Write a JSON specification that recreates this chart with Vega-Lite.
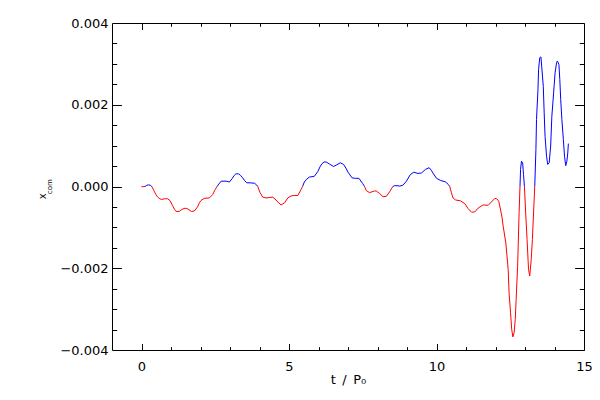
{
  "$schema": "https://vega.github.io/schema/vega-lite/v6.json",
  "width": 472,
  "height": 327,
  "autosize": "none",
  "padding": {"left": 112, "top": 23, "right": 16, "bottom": 50},
  "background": "white",
  "config": {
    "view": {"stroke": "black", "strokeWidth": 1},
    "axis": {"grid": false, "domain": false, "labelColor": "black", "tickColor": "black", "tickWidth": 1, "titleColor": "black", "labelFont": "DejaVu Sans", "titleFont": "DejaVu Sans", "titleFontWeight": "normal", "labelFlush": false, "labelOverlap": false}
  },
  "data": {"values": [
    {"t": 0.00, "v": -0.000003}, {"t": 0.08, "v": -0.000003}, {"t": 0.12, "v": 0}, {"t": 0.18, "v": 0.00003}, {"t": 0.24, "v": 0.00004}, {"t": 0.30, "v": 0.00003}, {"t": 0.35, "v": 0},
    {"t": 0.42, "v": -0.0001}, {"t": 0.49, "v": -0.0002}, {"t": 0.55, "v": -0.00026}, {"t": 0.60, "v": -0.00029}, {"t": 0.68, "v": -0.00032}, {"t": 0.77, "v": -0.0003}, {"t": 0.88, "v": -0.0003}, {"t": 0.96, "v": -0.00034},
    {"t": 1.05, "v": -0.00046}, {"t": 1.12, "v": -0.00056}, {"t": 1.17, "v": -0.00061}, {"t": 1.28, "v": -0.00061}, {"t": 1.37, "v": -0.00056}, {"t": 1.48, "v": -0.00053}, {"t": 1.57, "v": -0.00055}, {"t": 1.69, "v": -0.00061}, {"t": 1.79, "v": -0.0006}, {"t": 1.90, "v": -0.0005}, {"t": 1.96, "v": -0.0004},
    {"t": 2.02, "v": -0.00034}, {"t": 2.13, "v": -0.00029}, {"t": 2.30, "v": -0.00028}, {"t": 2.41, "v": -0.0002}, {"t": 2.50, "v": -0.00007}, {"t": 2.56, "v": 0}, {"t": 2.62, "v": 0.00006}, {"t": 2.70, "v": 0.00013}, {"t": 2.87, "v": 0.00013}, {"t": 2.98, "v": 0.00011},
    {"t": 3.07, "v": 0.00019}, {"t": 3.14, "v": 0.00027}, {"t": 3.20, "v": 0.00031}, {"t": 3.29, "v": 0.00031}, {"t": 3.36, "v": 0.00027}, {"t": 3.43, "v": 0.00021}, {"t": 3.50, "v": 0.00014}, {"t": 3.57, "v": 0.00009}, {"t": 3.68, "v": 0.00009}, {"t": 3.83, "v": 0.00008}, {"t": 3.90, "v": 0.00004}, {"t": 3.94, "v": 0},
    {"t": 4.02, "v": -0.00015}, {"t": 4.11, "v": -0.00026}, {"t": 4.22, "v": -0.00028}, {"t": 4.33, "v": -0.00027}, {"t": 4.45, "v": -0.00026}, {"t": 4.56, "v": -0.00033}, {"t": 4.65, "v": -0.0004}, {"t": 4.73, "v": -0.00045}, {"t": 4.85, "v": -0.0004}, {"t": 4.96, "v": -0.00028},
    {"t": 5.07, "v": -0.00023}, {"t": 5.18, "v": -0.00022}, {"t": 5.30, "v": -0.00022}, {"t": 5.41, "v": -0.00007}, {"t": 5.46, "v": 0}, {"t": 5.52, "v": 0.00011}, {"t": 5.60, "v": 0.00018}, {"t": 5.69, "v": 0.00023}, {"t": 5.86, "v": 0.00025}, {"t": 5.98, "v": 0.00037},
    {"t": 6.05, "v": 0.00048}, {"t": 6.12, "v": 0.00056}, {"t": 6.19, "v": 0.0006}, {"t": 6.26, "v": 0.0006}, {"t": 6.37, "v": 0.00055}, {"t": 6.51, "v": 0.00049}, {"t": 6.62, "v": 0.00053}, {"t": 6.74, "v": 0.00058}, {"t": 6.85, "v": 0.00054}, {"t": 6.93, "v": 0.00045},
    {"t": 7.00, "v": 0.00035}, {"t": 7.14, "v": 0.00021}, {"t": 7.25, "v": 0.0002}, {"t": 7.37, "v": 0.0002}, {"t": 7.50, "v": 0.00007}, {"t": 7.56, "v": 0}, {"t": 7.62, "v": -0.0001}, {"t": 7.73, "v": -0.00015}, {"t": 7.90, "v": -0.00011}, {"t": 7.96, "v": -0.00011},
    {"t": 8.07, "v": -0.00017}, {"t": 8.19, "v": -0.00025}, {"t": 8.30, "v": -0.00024}, {"t": 8.43, "v": -0.00011}, {"t": 8.52, "v": 0}, {"t": 8.58, "v": 0.00002}, {"t": 8.66, "v": 0.00002}, {"t": 8.75, "v": 0.00001}, {"t": 8.86, "v": 0.00003}, {"t": 8.98, "v": 0.00013},
    {"t": 9.11, "v": 0.00029}, {"t": 9.23, "v": 0.00035}, {"t": 9.37, "v": 0.00032}, {"t": 9.49, "v": 0.00033}, {"t": 9.63, "v": 0.00042}, {"t": 9.75, "v": 0.00046}, {"t": 9.82, "v": 0.0004}, {"t": 9.88, "v": 0.00033},
    {"t": 10.00, "v": 0.0002}, {"t": 10.13, "v": 0.00015}, {"t": 10.31, "v": 0.00011}, {"t": 10.40, "v": 0.00005}, {"t": 10.45, "v": 0}, {"t": 10.50, "v": -0.00014}, {"t": 10.56, "v": -0.00028}, {"t": 10.65, "v": -0.00033}, {"t": 10.81, "v": -0.00035}, {"t": 10.96, "v": -0.00042},
    {"t": 11.07, "v": -0.00054}, {"t": 11.19, "v": -0.00063}, {"t": 11.30, "v": -0.00062}, {"t": 11.41, "v": -0.00053}, {"t": 11.58, "v": -0.00045}, {"t": 11.75, "v": -0.00046}, {"t": 11.86, "v": -0.00038}, {"t": 11.98, "v": -0.00029},
    {"t": 12.04, "v": -0.0003}, {"t": 12.11, "v": -0.00036}, {"t": 12.18, "v": -0.0006}, {"t": 12.22, "v": -0.00075}, {"t": 12.26, "v": -0.00097}, {"t": 12.35, "v": -0.00138}, {"t": 12.43, "v": -0.00203}, {"t": 12.46, "v": -0.0026}, {"t": 12.51, "v": -0.00309}, {"t": 12.55, "v": -0.0035}, {"t": 12.59, "v": -0.00368}, {"t": 12.63, "v": -0.00358}, {"t": 12.67, "v": -0.00325}, {"t": 12.70, "v": -0.00276}, {"t": 12.75, "v": -0.00195}, {"t": 12.80, "v": -0.00064}, {"t": 12.83, "v": 0}, {"t": 12.85, "v": 0.00042}, {"t": 12.88, "v": 0.00062}, {"t": 12.92, "v": 0.00058}, {"t": 12.95, "v": 0.00029}, {"t": 12.98, "v": 0},
    {"t": 13.02, "v": -0.0006}, {"t": 13.07, "v": -0.0013}, {"t": 13.12, "v": -0.00203}, {"t": 13.16, "v": -0.00219}, {"t": 13.21, "v": -0.00179}, {"t": 13.25, "v": -0.0013}, {"t": 13.30, "v": -0.00048}, {"t": 13.33, "v": 0}, {"t": 13.37, "v": 0.0009}, {"t": 13.39, "v": 0.00164}, {"t": 13.44, "v": 0.00237}, {"t": 13.46, "v": 0.00286}, {"t": 13.50, "v": 0.00315}, {"t": 13.54, "v": 0.00317}, {"t": 13.57, "v": 0.0029}, {"t": 13.62, "v": 0.00245}, {"t": 13.65, "v": 0.0018}, {"t": 13.68, "v": 0.00123}, {"t": 13.73, "v": 0.00074}, {"t": 13.77, "v": 0.00054}, {"t": 13.82, "v": 0.00058}, {"t": 13.87, "v": 0.00099}, {"t": 13.91, "v": 0.00172}, {"t": 13.97, "v": 0.00229},
    {"t": 14.02, "v": 0.00278}, {"t": 14.07, "v": 0.00303}, {"t": 14.10, "v": 0.00307}, {"t": 14.15, "v": 0.00298}, {"t": 14.18, "v": 0.00262}, {"t": 14.21, "v": 0.00213}, {"t": 14.25, "v": 0.00164}, {"t": 14.30, "v": 0.00115}, {"t": 14.34, "v": 0.00074}, {"t": 14.38, "v": 0.00051}, {"t": 14.42, "v": 0.00062}, {"t": 14.45, "v": 0.00082}, {"t": 14.47, "v": 0.00105}
  ]},
  "layer": [
    {
      "transform": [{"calculate": "datum.v <= 0 ? datum.v : null", "as": "vr"}],
      "mark": {"type": "line", "color": "#ff0000", "strokeWidth": 1, "clip": true},
      "encoding": {
        "x": {"field": "t", "type": "quantitative", "scale": {"domain": [-1, 15], "nice": false, "zero": false},
              "axis": {"orient": "bottom", "values": [0, 5, 10, 15], "ticks": false, "labelPadding": 10, "labelFontSize": 13, "title": "t\u2002/\u2002P₀", "titleFontSize": 13, "titleX": 236, "titleY": 33, "titleAlign": "center", "titleBaseline": "alphabetic"}},
        "y": {"field": "vr", "type": "quantitative", "scale": {"domain": [-0.004, 0.004], "nice": false, "zero": false},
              "axis": {"orient": "left", "values": [-0.004, -0.002, 0, 0.002, 0.004], "format": ".3f", "ticks": false, "labelPadding": 4, "labelFontSize": 13, "title": "x", "titleFontSize": 10, "titleX": -66.5, "titleY": 172.8, "titleAngle": 270, "titleAlign": "center", "titleBaseline": "alphabetic"}}
      }
    },
    {
      "transform": [{"calculate": "datum.v >= 0 ? datum.v : null", "as": "vb"}],
      "mark": {"type": "line", "color": "#0000ff", "strokeWidth": 1, "clip": true},
      "encoding": {
        "x": {"field": "t", "type": "quantitative", "axis": {"orient": "bottom", "values": [0, 5, 10, 15], "labels": false, "tickSize": -6.5, "title": null}},
        "y": {"field": "vb", "type": "quantitative", "axis": {"orient": "left", "values": [-0.002, 0, 0.002], "labels": false, "tickSize": -9.4, "title": null}}
      }
    },
    {
      "mark": {"type": "point", "opacity": 0},
      "encoding": {
        "x": {"field": "t", "type": "quantitative", "axis": {"orient": "bottom", "values": [1, 2, 3, 4, 6, 7, 8, 9, 11, 12, 13, 14], "labels": false, "tickSize": -3.3, "title": null}},
        "y": {"field": "v", "type": "quantitative", "axis": {"orient": "left", "values": [-0.0035, -0.003, -0.0025, -0.0015, -0.001, -0.0005, 0.0005, 0.001, 0.0015, 0.0025, 0.003, 0.0035], "labels": false, "tickSize": -4.7, "title": null}}
      }
    },
    {
      "mark": {"type": "point", "opacity": 0},
      "encoding": {
        "x": {"field": "t", "type": "quantitative", "axis": {"orient": "top", "values": [0, 5, 10, 15], "labels": false, "tickSize": -6.5, "title": null}},
        "y": {"field": "v", "type": "quantitative", "axis": {"orient": "right", "values": [-0.002, 0, 0.002], "labels": false, "tickSize": -9.4, "title": null}}
      }
    },
    {
      "mark": {"type": "point", "opacity": 0},
      "encoding": {
        "x": {"field": "t", "type": "quantitative", "axis": {"orient": "top", "values": [1, 2, 3, 4, 6, 7, 8, 9, 11, 12, 13, 14], "labels": false, "tickSize": -3.3, "title": null}},
        "y": {"field": "v", "type": "quantitative", "axis": {"orient": "right", "values": [-0.0035, -0.003, -0.0025, -0.0015, -0.001, -0.0005, 0.0005, 0.001, 0.0015, 0.0025, 0.003, 0.0035], "labels": false, "tickSize": -4.7, "title": null}}
      }
    },
    {
      "mark": {"type": "point", "opacity": 0},
      "encoding": {
        "x": {"field": "t", "type": "quantitative", "axis": null},
        "y": {"field": "v", "type": "quantitative", "axis": {"orient": "left", "ticks": false, "labels": false, "title": "com", "titleFontSize": 7, "titleX": -60.2, "titleY": 163.2, "titleAngle": 270, "titleAlign": "center", "titleBaseline": "alphabetic"}}
      }
    }
  ],
  "resolve": {"axis": {"x": "independent", "y": "independent"}}
}
